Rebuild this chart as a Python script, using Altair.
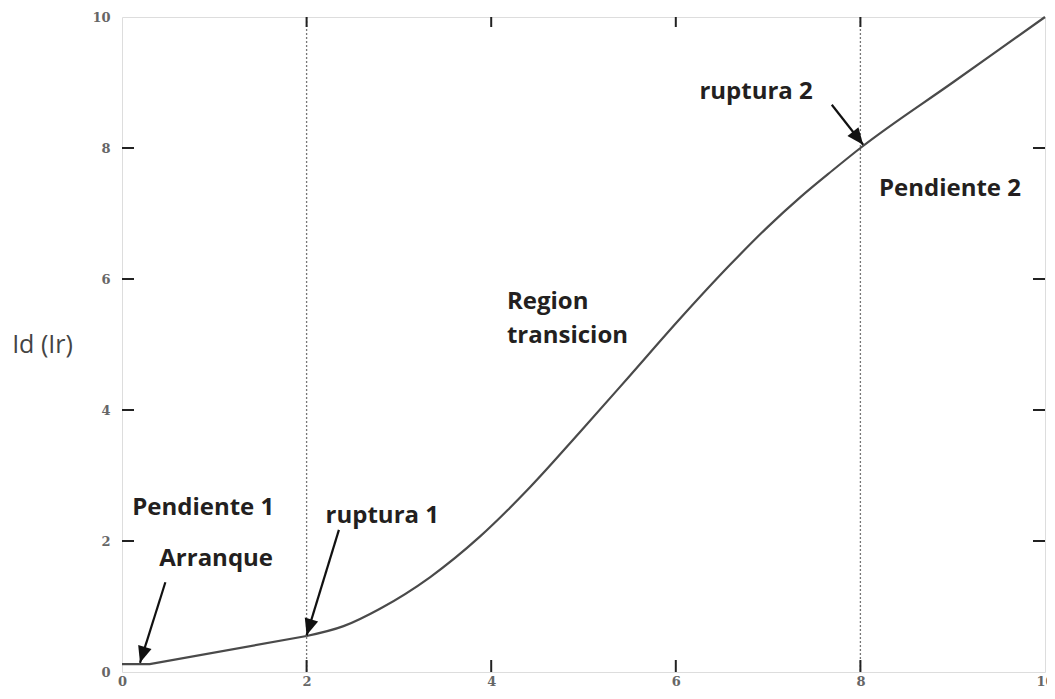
import altair as alt
import pandas as pd

# Curve data: straight start segment, then transition curve
seg1_x = [0, 0.3, 2.0]
seg1_y = [0.12, 0.12, 0.55]
seg2_x = [2.0, 2.4, 2.8, 3.34, 3.88, 4.42, 4.96, 5.5, 6.05, 6.59, 7.0, 7.35, 7.7, 8.0, 9.0, 10.0]
seg2_y = [0.55, 0.70, 0.97, 1.45, 2.07, 2.82, 3.66, 4.52, 5.40, 6.22, 6.80, 7.25, 7.66, 8.0, 9.0, 10.0]

tick_vals = [0, 2, 4, 6, 8, 10]
inner_ticks = [2, 4, 6, 8]
breaks = [2, 8]

# Arrows: start and tip in data units, head angle (deg clockwise from up)
arrow_x = [0.47, 2.35, 7.69]
arrow_y = [1.37, 2.17, 8.66]
arrow_tx = [0.195, 2.0, 8.03]
arrow_ty = [0.14, 0.56, 8.05]
arrow_ang = [197, 197, 142]

# Labels
lab_text = ["Pendiente 1", "Arranque", "ruptura 1", "ruptura 2", "Pendiente 2"]
lab_x = [0.88, 1.02, 2.82, 6.87, 8.97]
lab_y = [2.50, 1.73, 2.38, 8.85, 7.37]
reg_text = ["Region", "transicion"]
reg_x = [4.17, 4.17]
reg_y = [5.65, 5.13]

W, H = 923, 655
xs = alt.Scale(domain=[0, 10], nice=False)
ys = alt.Scale(domain=[0, 10], nice=False)

seg1_df = pd.DataFrame({"x": seg1_x, "y": seg1_y})
seg2_df = pd.DataFrame({"x": seg2_x, "y": seg2_y})
arrows_df = pd.DataFrame({"x": arrow_x, "y": arrow_y, "tx": arrow_tx, "ty": arrow_ty, "ang": arrow_ang})
labels_df = pd.DataFrame({"t": lab_text, "x": lab_x, "y": lab_y})
region_df = pd.DataFrame({"t": reg_text, "x": reg_x, "y": reg_y})
ticks_df = pd.DataFrame({"v": inner_ticks})
breaks_df = pd.DataFrame({"v": breaks})

label_font = "DejaVu Serif"

x_enc = alt.X("x:Q", scale=xs, axis=alt.Axis(
    values=tick_vals, format="d", title=None, domain=False, ticks=False, grid=False,
    labelFont=label_font, labelFontWeight="bold", labelColor="#666",
    labelFontSize=13, labelPadding=3, labelFlush=False))
y_enc = alt.Y("y:Q", scale=ys, axis=alt.Axis(
    values=tick_vals, format="d", title="Id (Ir)", domain=False, ticks=False, grid=False,
    labelFont=label_font, labelFontWeight="bold", labelColor="#666",
    labelFontSize=13, labelPadding=12, labelFlush=False,
    titleAngle=0, titleFont="Open Sans", titleFontWeight="normal",
    titleFontSize=25, titleColor="#444", titleX=-80, titleY=327,
    titleAlign="center", titleBaseline="middle"))

line1 = alt.Chart(seg1_df).mark_line(
    color="#4a4a4a", strokeWidth=2.2, interpolate="linear"
).encode(x=x_enc, y=y_enc)

line2 = alt.Chart(seg2_df).mark_line(
    color="#4a4a4a", strokeWidth=2.2, interpolate="monotone"
).encode(x=alt.X("x:Q", scale=xs), y=alt.Y("y:Q", scale=ys))

dotted = alt.Chart(breaks_df).mark_rule(
    color="#777", strokeWidth=1.3, strokeDash=[2, 2]
).encode(x=alt.X("v:Q", scale=xs), y=alt.value(0), y2=alt.value(H))

tick_style = dict(color="#222", strokeWidth=2)
t_bottom = alt.Chart(ticks_df).mark_rule(**tick_style).encode(
    x=alt.X("v:Q", scale=xs), y=alt.value(H), y2=alt.value(H - 12))
t_top = alt.Chart(ticks_df).mark_rule(**tick_style).encode(
    x=alt.X("v:Q", scale=xs), y=alt.value(0), y2=alt.value(10))
t_left = alt.Chart(ticks_df).mark_rule(**tick_style).encode(
    y=alt.Y("v:Q", scale=ys), x=alt.value(0), x2=alt.value(12))
t_right = alt.Chart(ticks_df).mark_rule(**tick_style).encode(
    y=alt.Y("v:Q", scale=ys), x=alt.value(W), x2=alt.value(W - 12))

arrow_lines = alt.Chart(arrows_df).mark_rule(color="#111", strokeWidth=2.2).encode(
    x=alt.X("x:Q", scale=xs), y=alt.Y("y:Q", scale=ys),
    x2="tx:Q", y2="ty:Q")
arrow_heads = alt.Chart(arrows_df).mark_point(
    shape="M0,0L-0.42,1L0.42,1Z", filled=True, color="#111", opacity=1, size=1100
).encode(
    x=alt.X("tx:Q", scale=xs), y=alt.Y("ty:Q", scale=ys), angle=alt.Angle("ang:Q", scale=None))

labels = alt.Chart(labels_df).mark_text(
    font="Open Sans", fontWeight="bold", fontSize=24, color="#231f20",
    align="center", baseline="middle"
).encode(x=alt.X("x:Q", scale=xs), y=alt.Y("y:Q", scale=ys), text="t:N")

region = alt.Chart(region_df).mark_text(
    font="Open Sans", fontWeight="bold", fontSize=24, color="#231f20",
    align="left", baseline="middle"
).encode(x=alt.X("x:Q", scale=xs), y=alt.Y("y:Q", scale=ys), text="t:N")

chart = alt.layer(
    dotted, line1, line2, t_bottom, t_top, t_left, t_right,
    arrow_lines, arrow_heads, labels, region
).properties(
    width=W, height=H,
    autosize=alt.AutoSizeParams(type="none"),
    padding={"left": 114, "top": 9, "right": 2, "bottom": 19},
).configure_view(
    stroke="#222", strokeWidth=3
).configure(background="white")

chart.save("out.html", embed_options={"renderer": "svg", "actions": False})
